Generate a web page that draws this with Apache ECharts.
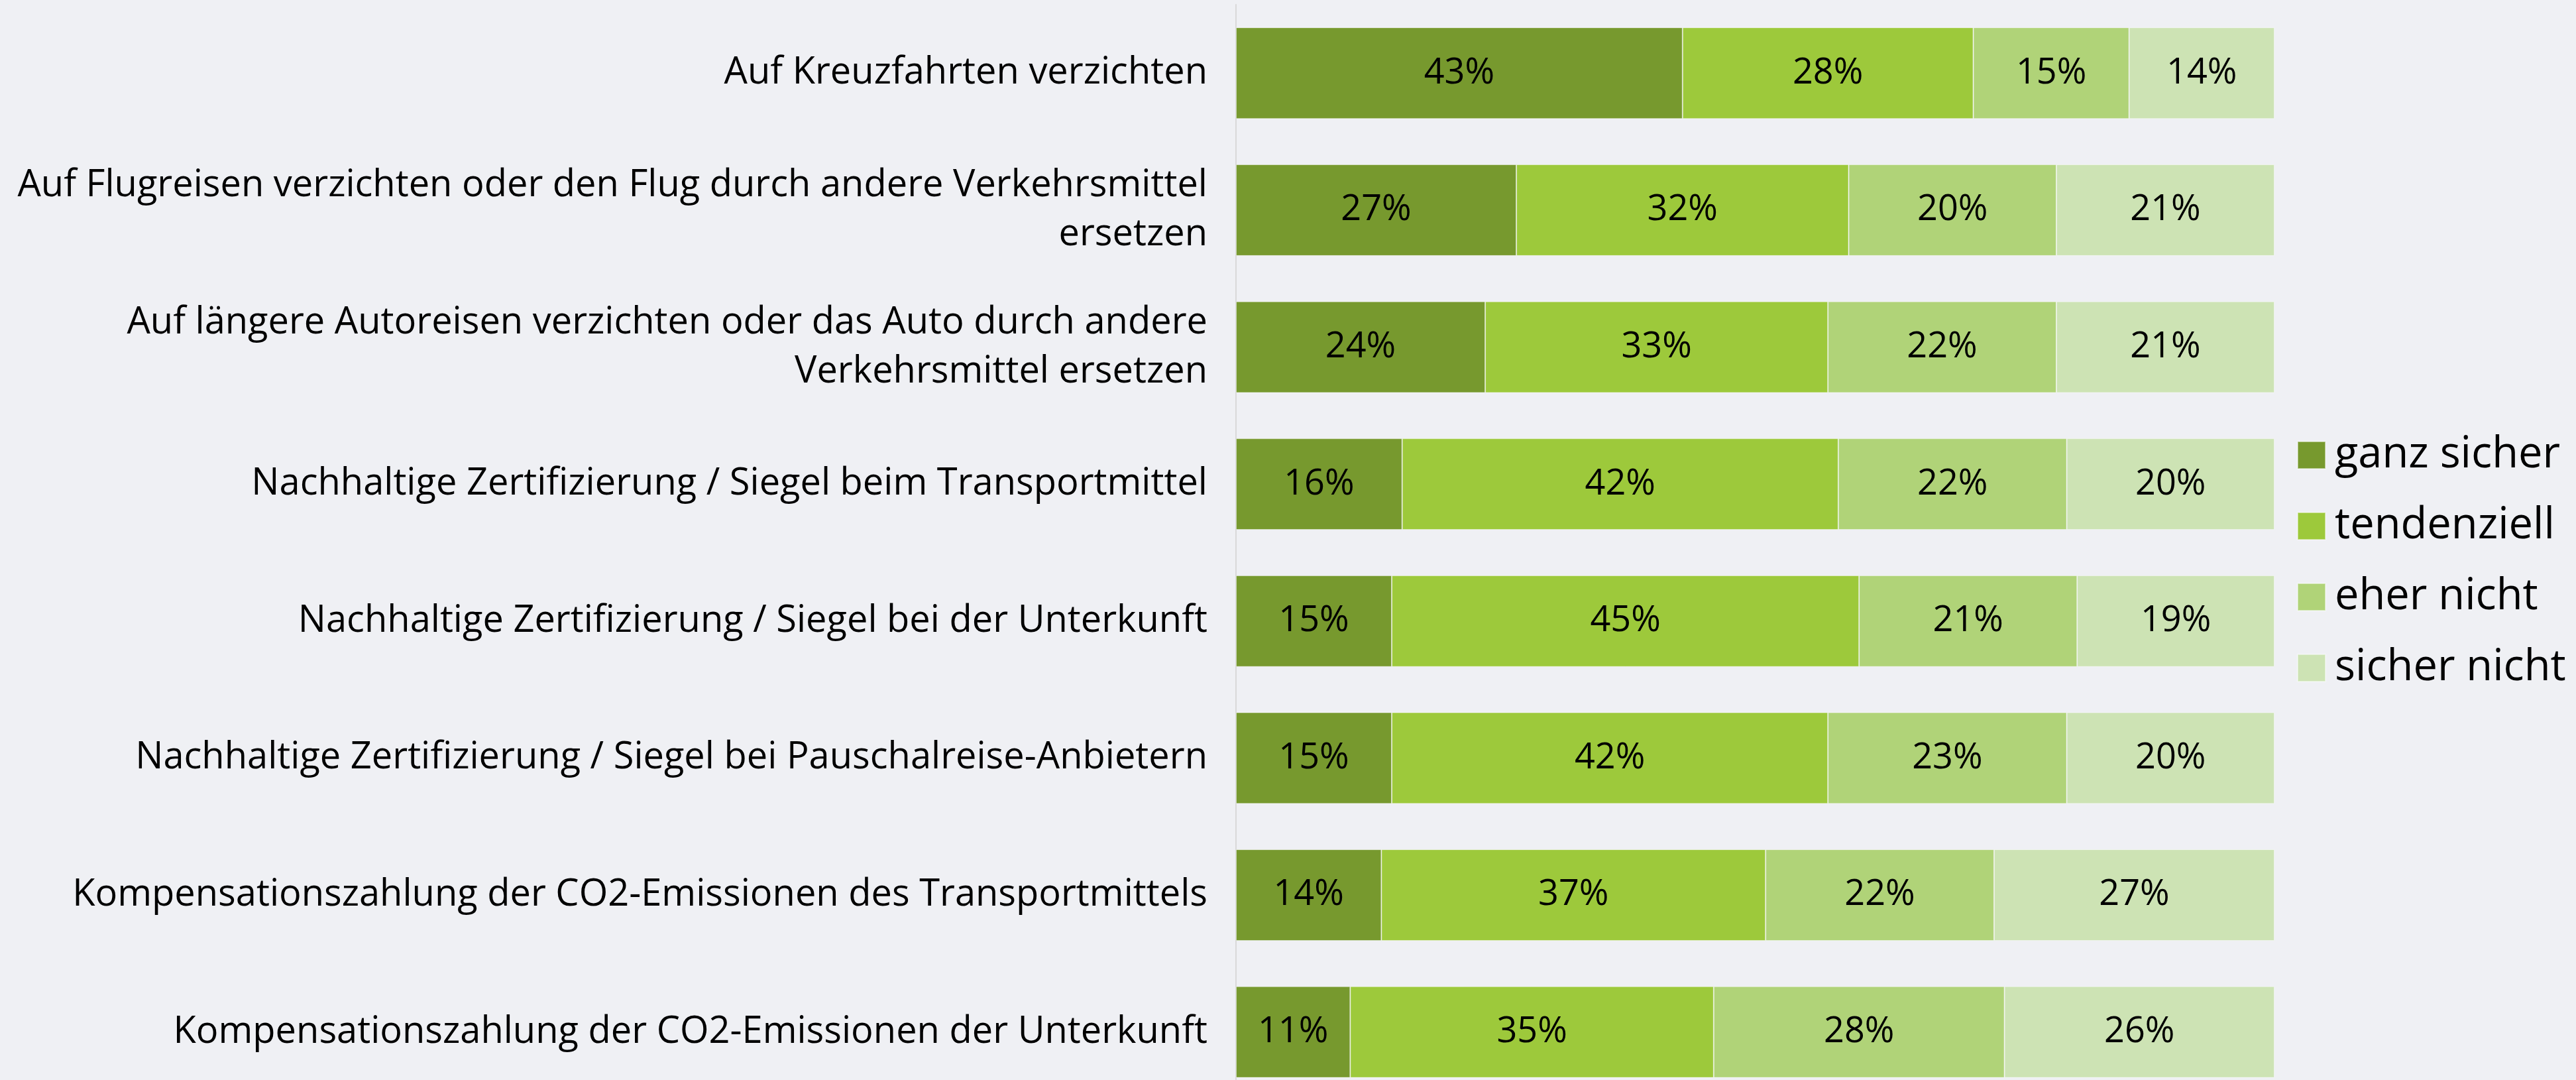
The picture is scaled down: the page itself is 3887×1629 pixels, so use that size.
<!DOCTYPE html>
<html>
<head>
<meta charset="utf-8">
<style>
  html, body { margin: 0; padding: 0; background: #EFF0F4; }
  #chart { width: 3887px; height: 1629px; }
</style>
<script src="https://cdn.jsdelivr.net/npm/echarts@6/dist/echarts.min.js"></script>
</head>
<body>
<div id="chart"></div>
<script>
const categories = [
  "Auf Kreuzfahrten verzichten",
  "Auf Flugreisen verzichten oder den Flug durch andere Verkehrsmittel\nersetzen",
  "Auf längere Autoreisen verzichten oder das Auto durch andere\nVerkehrsmittel ersetzen",
  "Nachhaltige Zertifizierung / Siegel beim Transportmittel",
  "Nachhaltige Zertifizierung / Siegel bei der Unterkunft",
  "Nachhaltige Zertifizierung / Siegel bei Pauschalreise-Anbietern",
  "Kompensationszahlung der CO2-Emissionen des Transportmittels",
  "Kompensationszahlung der CO2-Emissionen der Unterkunft"
];
const seriesNames = ["ganz sicher", "tendenziell", "eher nicht", "sicher nicht"];
const ganzSicher  = [43, 27, 24, 16, 15, 15, 14, 11];
const tendenziell = [28, 32, 33, 42, 45, 42, 37, 35];
const eherNicht   = [15, 20, 22, 22, 21, 23, 22, 28];
const sicherNicht = [14, 21, 21, 20, 19, 20, 27, 26];
const colors = ["#77992E", "#9DC93B", "#B0D378", "#CDE3B4"];

const FONT = "'Open Sans', 'Noto Sans', sans-serif";
const chart = echarts.init(document.getElementById('chart'), null, { renderer: 'canvas' });

const values = [ganzSicher, tendenziell, eherNicht, sicherNicht];
const series = seriesNames.map((name, i) => ({
  name: name,
  type: 'bar',
  stack: 'total',
  barCategoryGap: '33.3%',
  data: values[i],
  itemStyle: { color: colors[i], borderColor: 'rgba(255,255,255,0.45)', borderWidth: 1 },
  label: {
    show: true,
    position: 'inside',
    formatter: '{c}%',
    color: '#000',
    fontFamily: FONT,
    fontSize: 54
  },
  emphasis: { disabled: true }
}));

chart.setOption({
  backgroundColor: '#EFF0F4',
  animation: false,
  grid: { left: 1865, top: 7, width: 1567, height: 1653, containLabel: false, outerBoundsMode: 'none' },
  legend: {
    orient: 'vertical',
    left: 3461,
    top: 649,
    itemWidth: 42,
    itemHeight: 41,
    itemGap: 42,
    icon: 'rect',
    data: seriesNames,
    textStyle: {
      color: '#000',
      fontFamily: FONT,
      fontSize: 65,
      padding: [0, 0, 0, 9]
    }
  },
  xAxis: {
    type: 'value',
    min: 0,
    max: 100,
    show: false
  },
  yAxis: {
    type: 'category',
    data: categories,
    inverse: true,
    axisLine: { show: true, lineStyle: { color: '#D9D9D9', width: 2 } },
    axisTick: { show: false },
    splitLine: { show: false },
    axisLabel: {
      color: '#000',
      fontFamily: FONT,
      fontSize: 56,
      lineHeight: 74,
      margin: 43,
      align: 'right'
    }
  },
  series: series
});
</script>
</body>
</html>
